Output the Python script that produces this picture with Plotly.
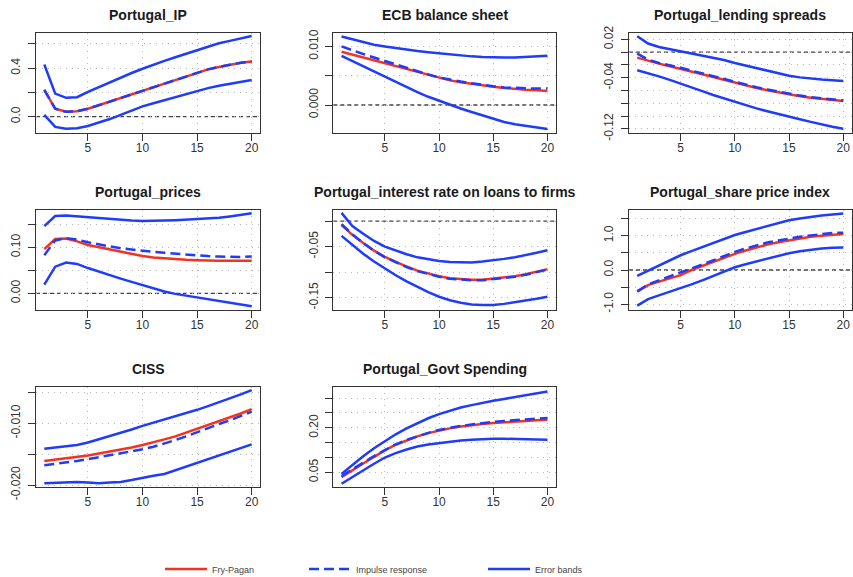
import plotly.graph_objects as go

W, H = 853, 577
steps = list(range(1, 21))
x_ticks = [5, 10, 15, 20]

titles = ["Portugal_IP", "ECB balance sheet", "Portugal_lending spreads",
          "Portugal_prices", "Portugal_interest rate on loans to firms",
          "Portugal_share price index", "CISS", "Portugal_Govt Spending"]

# ---- Portugal_IP
ip_hi = [0.43, 0.19, 0.155, 0.16, 0.205, 0.245, 0.285, 0.325, 0.36, 0.395, 0.43, 0.46, 0.49, 0.52, 0.55, 0.58, 0.605, 0.625, 0.645, 0.665]
ip_fry = [0.22, 0.065, 0.04, 0.045, 0.065, 0.095, 0.125, 0.155, 0.185, 0.215, 0.245, 0.275, 0.305, 0.335, 0.365, 0.39, 0.41, 0.43, 0.445, 0.455]
ip_irf = [0.22, 0.065, 0.04, 0.045, 0.065, 0.095, 0.125, 0.155, 0.185, 0.215, 0.245, 0.275, 0.305, 0.335, 0.365, 0.39, 0.41, 0.43, 0.445, 0.455]
ip_lo = [0.015, -0.085, -0.1, -0.095, -0.077, -0.05, -0.02, 0.015, 0.05, 0.085, 0.11, 0.135, 0.16, 0.19, 0.215, 0.235, 0.255, 0.27, 0.287, 0.303]

# ---- ECB balance sheet
ecb_hi = [0.0117, 0.0112, 0.0107, 0.0103, 0.0100, 0.0097, 0.0094, 0.0092, 0.0090, 0.0088, 0.0086, 0.0084, 0.0083, 0.0082, 0.0081, 0.0081, 0.0081, 0.0082, 0.0083, 0.0084]
ecb_fry = [0.0091, 0.0086, 0.0081, 0.0076, 0.0071, 0.0066, 0.0061, 0.0056, 0.0051, 0.0046, 0.0042, 0.0039, 0.0036, 0.0033, 0.0031, 0.0029, 0.0027, 0.0026, 0.0025, 0.0024]
ecb_irf = [0.0100, 0.0093, 0.0087, 0.0081, 0.0075, 0.0069, 0.0063, 0.0057, 0.0052, 0.0047, 0.0043, 0.0040, 0.0037, 0.0034, 0.0032, 0.0030, 0.0029, 0.0028, 0.0028, 0.0028]
ecb_lo = [0.0084, 0.0075, 0.0066, 0.0057, 0.0048, 0.0039, 0.0030, 0.0022, 0.0014, 0.0007, 0.0000, -0.0006, -0.0012, -0.0018, -0.0024, -0.0029, -0.0033, -0.0036, -0.0039, -0.0041]

# ---- Portugal_lending spreads
ls_hi = [0.0247, 0.0133, 0.008, 0.0045, 0.0017, -0.0015, -0.005, -0.0085, -0.0125, -0.017, -0.021, -0.025, -0.029, -0.033, -0.037, -0.0395, -0.0415, -0.043, -0.044, -0.045]
ls_fry = [-0.0086, -0.0135, -0.018, -0.022, -0.0258, -0.030, -0.0345, -0.039, -0.0435, -0.048, -0.052, -0.056, -0.0595, -0.063, -0.066, -0.069, -0.0715, -0.0735, -0.075, -0.0764]
ls_irf = [-0.0024, -0.0118, -0.017, -0.0205, -0.0245, -0.029, -0.0335, -0.038, -0.0425, -0.047, -0.051, -0.055, -0.0585, -0.062, -0.065, -0.068, -0.0705, -0.0725, -0.074, -0.0755]
ls_lo = [-0.0284, -0.033, -0.038, -0.0435, -0.049, -0.055, -0.061, -0.067, -0.0725, -0.078, -0.083, -0.088, -0.0925, -0.097, -0.101, -0.105, -0.109, -0.113, -0.1165, -0.1196]

# ---- Portugal_prices
pr_hi = [0.146, 0.168, 0.169, 0.167, 0.165, 0.163, 0.161, 0.159, 0.158, 0.157, 0.157, 0.158, 0.159, 0.16, 0.161, 0.162, 0.164, 0.167, 0.17, 0.174]
pr_fry = [0.096, 0.118, 0.119, 0.113, 0.105, 0.1, 0.095, 0.09, 0.085, 0.081, 0.078, 0.076, 0.074, 0.073, 0.072, 0.071, 0.071, 0.071, 0.071, 0.071]
pr_irf = [0.083, 0.115, 0.12, 0.117, 0.111, 0.106, 0.102, 0.098, 0.095, 0.092, 0.09, 0.088, 0.086, 0.084, 0.082, 0.081, 0.08, 0.079, 0.079, 0.08]
pr_lo = [0.019, 0.058, 0.067, 0.064, 0.055, 0.047, 0.039, 0.032, 0.025, 0.018, 0.011, 0.004, -0.001, -0.005, -0.009, -0.013, -0.017, -0.021, -0.025, -0.028]

# ---- Portugal_interest rate on loans to firms
ir_hi = [0.016, -0.0098, -0.025, -0.039, -0.050, -0.058, -0.065, -0.071, -0.075, -0.078, -0.080, -0.081, -0.081, -0.079, -0.077, -0.074, -0.071, -0.067, -0.062, -0.057]
ir_fry = [-0.008, -0.027, -0.043, -0.058, -0.070, -0.080, -0.089, -0.097, -0.103, -0.108, -0.112, -0.114, -0.115, -0.115, -0.113, -0.111, -0.108, -0.104, -0.099, -0.094]
ir_irf = [-0.006, -0.026, -0.043, -0.058, -0.071, -0.081, -0.090, -0.098, -0.104, -0.109, -0.113, -0.115, -0.116, -0.116, -0.114, -0.112, -0.109, -0.105, -0.100, -0.095]
ir_lo = [-0.029, -0.047, -0.064, -0.079, -0.093, -0.106, -0.118, -0.129, -0.139, -0.148, -0.155, -0.160, -0.163, -0.164, -0.164, -0.162, -0.159, -0.156, -0.152, -0.148]

# ---- Portugal_share price index
sp_hi = [-0.17, -0.02, 0.13, 0.28, 0.43, 0.55, 0.67, 0.79, 0.91, 1.02, 1.11, 1.2, 1.29, 1.37, 1.45, 1.5, 1.55, 1.59, 1.62, 1.65]
sp_fry = [-0.63, -0.44, -0.34, -0.25, -0.15, 0.0, 0.12, 0.24, 0.36, 0.47, 0.57, 0.66, 0.74, 0.81, 0.87, 0.92, 0.97, 1.0, 1.03, 1.05]
sp_irf = [-0.62, -0.42, -0.3, -0.19, -0.08, 0.04, 0.16, 0.28, 0.41, 0.53, 0.63, 0.72, 0.8, 0.86, 0.92, 0.97, 1.01, 1.05, 1.08, 1.09]
sp_lo = [-1.04, -0.85, -0.74, -0.64, -0.53, -0.42, -0.3, -0.18, -0.05, 0.08, 0.17, 0.25, 0.33, 0.42, 0.49, 0.55, 0.6, 0.63, 0.65, 0.66]

# ---- CISS
ci_hi = [-0.0141, -0.0139, -0.0137, -0.0135, -0.0131, -0.0126, -0.0121, -0.0115, -0.0110, -0.0104, -0.0099, -0.0094, -0.0089, -0.0084, -0.0078, -0.0072, -0.0066, -0.0059, -0.0053, -0.0046]
ci_fry = [-0.0161, -0.0159, -0.0157, -0.0155, -0.0152, -0.0149, -0.0146, -0.0142, -0.0139, -0.0135, -0.0131, -0.0126, -0.0121, -0.0115, -0.0109, -0.0103, -0.0097, -0.0090, -0.0084, -0.0077]
ci_irf = [-0.0168, -0.0166, -0.0164, -0.0161, -0.0158, -0.0155, -0.0152, -0.0148, -0.0145, -0.0142, -0.0138, -0.0133, -0.0127, -0.0121, -0.0114, -0.0108, -0.0101, -0.0095, -0.0088, -0.0081]
ci_lo = [-0.0197, -0.0196, -0.0196, -0.0195, -0.0196, -0.0197, -0.0196, -0.0195, -0.0192, -0.0188, -0.0185, -0.0182, -0.0176, -0.0171, -0.0165, -0.0159, -0.0153, -0.0146, -0.0140, -0.0134]

# ---- Portugal_Govt Spending
gs_hi = [0.045, 0.075, 0.104, 0.131, 0.156, 0.178, 0.198, 0.216, 0.232, 0.246, 0.258, 0.268, 0.276, 0.284, 0.291, 0.297, 0.303, 0.309, 0.315, 0.322]
gs_fry = [0.034, 0.058, 0.08, 0.102, 0.124, 0.143, 0.158, 0.171, 0.182, 0.191, 0.198, 0.204, 0.209, 0.213, 0.216, 0.219, 0.221, 0.223, 0.225, 0.227]
gs_irf = [0.038, 0.061, 0.083, 0.105, 0.125, 0.144, 0.159, 0.172, 0.183, 0.193, 0.2, 0.206, 0.211, 0.216, 0.22, 0.223, 0.226, 0.229, 0.231, 0.233]
gs_lo = [0.012, 0.035, 0.057, 0.079, 0.1, 0.115, 0.127, 0.137, 0.144, 0.149, 0.154, 0.157, 0.16, 0.162, 0.163, 0.163, 0.163, 0.162, 0.161, 0.16]

# y-axis tick values / labels per panel
ip_ticks, ip_labels = [0.0, 0.2, 0.4, 0.6], ["0.0", "", "0.4", ""]
ecb_ticks, ecb_labels = [0.0, 0.005, 0.010], ["0.000", "", "0.010"]
ls_ticks, ls_labels = [0.02, 0.0, -0.02, -0.04, -0.06, -0.08, -0.10, -0.12], ["0.02", "", "", "-0.04", "", "", "", "-0.12"]
pr_ticks, pr_labels = [0.0, 0.05, 0.10, 0.15], ["0.00", "", "0.10", ""]
ir_ticks, ir_labels = [0.0, -0.05, -0.10, -0.15], ["", "-0.05", "", "-0.15"]
sp_ticks, sp_labels = [-1.0, -0.5, 0.0, 0.5, 1.0, 1.5], ["-1.0", "", "0.0", "", "1.0", ""]
ci_ticks, ci_labels = [-0.020, -0.015, -0.010, -0.005], ["-0.020", "", "-0.010", ""]
gs_ticks, gs_labels = [0.05, 0.10, 0.15, 0.20, 0.25, 0.30], ["0.05", "", "", "0.20", "", ""]

panels = [
    (ip_fry, ip_irf, ip_lo, ip_hi, ip_ticks, ip_labels, [-0.135, 0.69]),
    (ecb_fry, ecb_irf, ecb_lo, ecb_hi, ecb_ticks, ecb_labels, [-0.00478, 0.01229]),
    (ls_fry, ls_irf, ls_lo, ls_hi, ls_ticks, ls_labels, [-0.1264, 0.0298]),
    (pr_fry, pr_irf, pr_lo, pr_hi, pr_ticks, pr_labels, [-0.036, 0.181]),
    (ir_fry, ir_irf, ir_lo, ir_hi, ir_ticks, ir_labels, [-0.174, 0.0216]),
    (sp_fry, sp_irf, sp_lo, sp_hi, sp_ticks, sp_labels, [-1.166, 1.75]),
    (ci_fry, ci_irf, ci_lo, ci_hi, ci_ticks, ci_labels, [-0.02027, -0.00405]),
    (gs_fry, gs_irf, gs_lo, gs_hi, gs_ticks, gs_labels, [0.002, 0.338]),
]

# panel boxes in pixels
col_px = [(36, 260), (333.3, 555.7), (629, 851.5)]
row_px = [(33, 133), (210, 310), (386.7, 486.7)]

RED = "#f5311f"
BLUE = "#1f3cfa"
FONT = "Liberation Sans, Arial, sans-serif"

fig = go.Figure()
layout = dict(width=W, height=H, margin=dict(l=0, r=0, t=0, b=0, autoexpand=False),
              paper_bgcolor="white", plot_bgcolor="white",
              font=dict(family=FONT, size=12, color="#333"),
              annotations=[], shapes=[])

for i, (fry, irf, lo, hi, yt, yl, yr) in enumerate(panels):
    r, c = divmod(i, 3)
    n = "" if i == 0 else str(i + 1)
    xa, ya = "x" + n, "y" + n
    x0, x1 = col_px[c]
    y0, y1 = row_px[r]
    first = i == 0
    fig.add_trace(go.Scatter(x=steps, y=fry, mode="lines", xaxis=xa, yaxis=ya,
                             line=dict(color=RED, width=2.5), name="Fry-Pagan",
                             showlegend=first, legend="legend"))
    fig.add_trace(go.Scatter(x=steps, y=lo, mode="lines", xaxis=xa, yaxis=ya,
                             line=dict(color=BLUE, width=2.5), name="Error bands",
                             showlegend=first, legend="legend3"))
    fig.add_trace(go.Scatter(x=steps, y=hi, mode="lines", xaxis=xa, yaxis=ya,
                             line=dict(color=BLUE, width=2.5), name="Error bands",
                             showlegend=False, legend="legend3"))
    fig.add_trace(go.Scatter(x=steps, y=irf, mode="lines", xaxis=xa, yaxis=ya,
                             line=dict(color=BLUE, width=2.5, dash="10px,5px"),
                             name="Impulse response", showlegend=first, legend="legend2"))
    axcommon = dict(showline=True, mirror=True, linecolor="#333", linewidth=1,
                    ticks="outside", ticklen=7, tickcolor="#333", tickwidth=1,
                    showgrid=True, gridcolor="#b8b8b8", griddash="1px,5px", gridwidth=1,
                    zeroline=False, tickfont=dict(size=12, color="#333", family=FONT))
    layout["xaxis" + n] = dict(domain=[x0 / W, x1 / W], anchor=ya, range=[0.24, 20.76],
                               tickmode="array", tickvals=x_ticks, ticklabelstandoff=-3,
                               ticktext=[str(v) for v in x_ticks], **axcommon)
    layout["yaxis" + n] = dict(domain=[1 - y1 / H, 1 - y0 / H], anchor=xa, range=yr,
                               tickmode="array", tickvals=yt, ticktext=yl,
                               tickangle=-90, ticklabelstandoff=3, **axcommon)
    layout["annotations"].append(dict(
        text="<b>" + titles[i] + "</b>", x=(x0 + x1) / 2 / W, y=1 - (y0 - 18) / H,
        xref="paper", yref="paper", xanchor="center", yanchor="middle",
        showarrow=False, font=dict(size=14, color="#1a1a1a", family=FONT)))
    if yr[0] < 0 < yr[1]:
        layout["shapes"].append(dict(type="line", xref=xa + " domain", yref=ya,
                                     x0=0, x1=1, y0=0, y1=0, layer="below",
                                     line=dict(color="#444", width=1.3, dash="4px,3px")))

leg_y = 1 - 569 / H
legfont = dict(size=9, color="#444", family=FONT)
layout["legend"] = dict(x=160 / W, y=leg_y, xanchor="left", yanchor="middle",
                        font=legfont, itemwidth=42, bgcolor="rgba(0,0,0,0)")
layout["legend2"] = dict(x=304 / W, y=leg_y, xanchor="left", yanchor="middle",
                         font=legfont, itemwidth=42, bgcolor="rgba(0,0,0,0)")
layout["legend3"] = dict(x=483 / W, y=leg_y, xanchor="left", yanchor="middle",
                         font=legfont, itemwidth=42, bgcolor="rgba(0,0,0,0)")

fig.update_layout(**layout)
fig.write_html("out.html")
